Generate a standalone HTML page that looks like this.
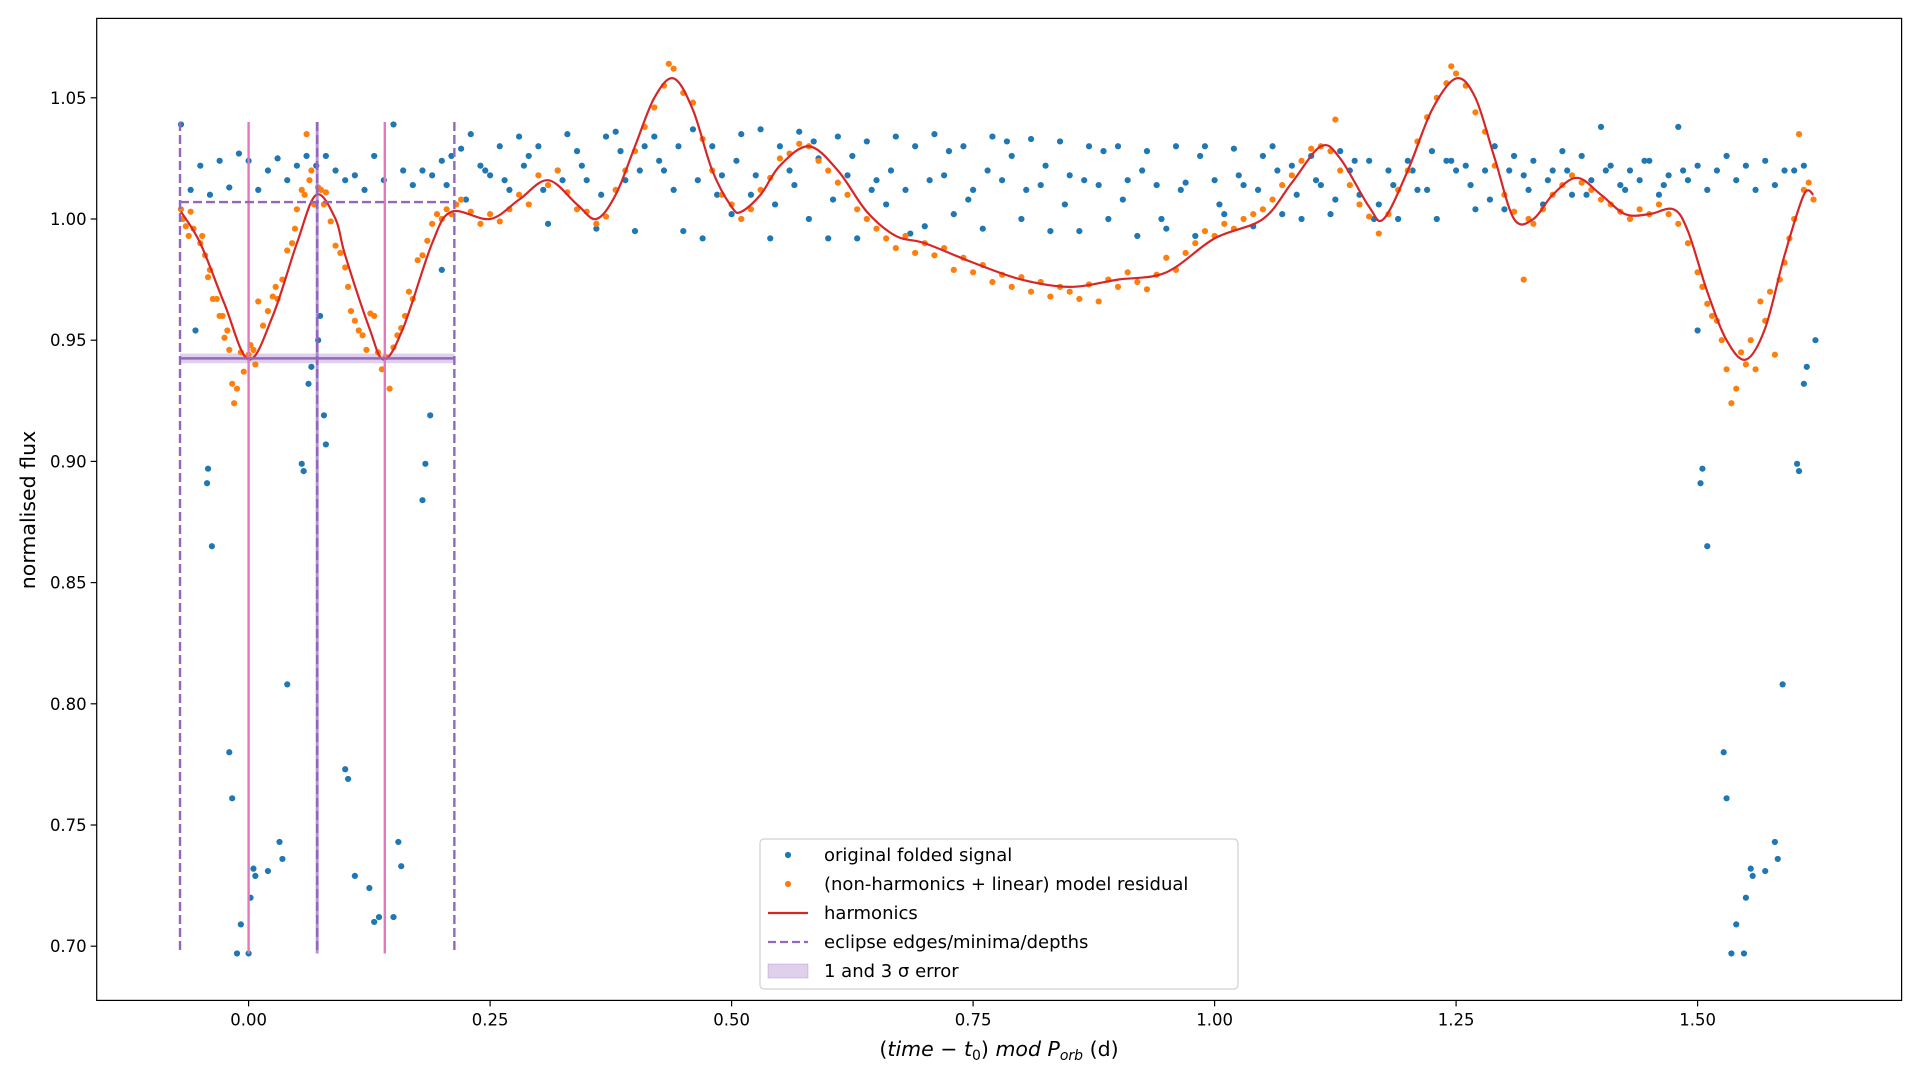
<!DOCTYPE html>
<html><head><meta charset="utf-8"><style>
html,body{margin:0;padding:0;background:#fff}
svg{display:block;font-family:"DejaVu Sans","Liberation Sans",sans-serif}
</style></head><body>
<svg id="chart" width="1920" height="1080" viewBox="0 0 1920 1080">
<rect x="0" y="0" width="1920" height="1080" fill="#fff"/>
<g id="plot"></g>
</svg>
<script>
// ---- data ----
const xTicks = [0, 0.25, 0.5, 0.75, 1.0, 1.25, 1.5];
const xTickLabels = ["0.00","0.25","0.50","0.75","1.00","1.25","1.50"];
const yTicks = [0.70,0.75,0.80,0.85,0.90,0.95,1.00,1.05];
const yTickLabels = ["0.70","0.75","0.80","0.85","0.90","0.95","1.00","1.05"];

const harmX = [-0.07,-0.05,-0.025,0,0.025,0.05,0.07,0.09,0.1,0.125,0.14,0.16,0.19,0.21,0.25,0.28,0.31,0.34,0.36,0.38,0.4,0.42,0.44,0.46,0.48,0.5,0.51,0.53,0.55,0.58,0.61,0.64,0.67,0.7,0.75,0.8,0.85,0.9,0.95,1.0,1.05,1.08,1.11,1.13,1.16,1.175,1.2,1.225,1.25,1.27,1.29,1.31,1.33,1.35,1.375,1.4,1.425,1.45,1.475,1.49,1.51,1.53,1.55,1.57,1.59,1.61,1.62];
const harmY = [1.003,0.99,0.965,0.942,0.96,0.99,1.01,1.0,0.985,0.955,0.942,0.955,0.99,1.003,1.0,1.008,1.016,1.006,1.0,1.01,1.03,1.05,1.058,1.045,1.02,1.005,1.003,1.01,1.022,1.03,1.02,1.003,0.993,0.99,0.982,0.975,0.972,0.975,0.978,0.992,1.0,1.015,1.03,1.025,1.005,1.0,1.02,1.045,1.058,1.05,1.025,1.0,1.0,1.01,1.017,1.01,1.002,1.002,1.004,0.995,0.97,0.95,0.942,0.955,0.985,1.01,1.01];

const resX = [-0.07,-0.068,-0.065,-0.062,-0.06,-0.057,-0.05,-0.048,-0.045,-0.042,-0.04,-0.037,-0.033,-0.03,-0.027,-0.025,-0.022,-0.02,-0.017,-0.015,-0.012,-0.008,-0.005,0,0.002,0.005,0.007,0.01,0.015,0.02,0.025,0.028,0.03,0.035,0.04,0.045,0.048,0.05,0.055,0.058,0.06,0.063,0.065,0.068,0.072,0.075,0.078,0.08,0.085,0.09,0.095,0.1,0.103,0.106,0.11,0.114,0.118,0.122,0.126,0.13,0.134,0.138,0.142,0.146,0.15,0.154,0.158,0.162,0.166,0.17,0.175,0.18,0.185,0.19,0.195,0.2,0.205,0.21,0.215,0.22,0.23,0.24,0.25,0.26,0.27,0.28,0.29,0.3,0.31,0.32,0.33,0.34,0.35,0.36,0.37,0.38,0.39,0.4,0.41,0.42,0.43,0.435,0.44,0.45,0.46,0.47,0.48,0.49,0.5,0.51,0.52,0.53,0.54,0.55,0.56,0.57,0.58,0.59,0.6,0.61,0.62,0.63,0.64,0.65,0.66,0.67,0.68,0.69,0.7,0.71,0.72,0.73,0.74,0.75,0.76,0.77,0.78,0.79,0.8,0.81,0.82,0.83,0.84,0.85,0.86,0.87,0.88,0.89,0.9,0.91,0.92,0.93,0.94,0.95,0.96,0.97,0.98,0.99,1.0,1.01,1.02,1.03,1.04,1.05,1.06,1.07,1.08,1.09,1.1,1.11,1.12,1.125,1.13,1.14,1.15,1.16,1.17,1.18,1.19,1.2,1.21,1.22,1.23,1.24,1.245,1.25,1.26,1.27,1.28,1.29,1.3,1.31,1.32,1.325,1.33,1.34,1.35,1.36,1.37,1.38,1.39,1.4,1.41,1.42,1.43,1.44,1.45,1.46,1.47,1.48,1.49,1.5,1.505,1.51,1.515,1.52,1.525,1.53,1.535,1.54,1.545,1.55,1.555,1.56,1.565,1.57,1.575,1.58,1.585,1.59,1.595,1.6,1.605,1.61,1.615,1.62];
const resY = [1.004,1.0,0.997,0.993,1.003,0.996,0.99,0.993,0.985,0.976,0.979,0.967,0.967,0.96,0.96,0.951,0.954,0.946,0.932,0.924,0.93,0.945,0.937,0.944,0.948,0.946,0.94,0.966,0.956,0.962,0.968,0.972,0.967,0.975,0.987,0.99,0.996,1.004,1.012,1.01,1.035,1.016,1.02,1.006,1.013,1.012,1.006,1.011,0.999,0.989,0.986,0.98,0.972,0.962,0.958,0.954,0.952,0.946,0.961,0.96,0.945,0.938,0.943,0.93,0.947,0.952,0.955,0.96,0.97,0.967,0.983,0.985,0.991,0.998,1.002,1.0,1.004,1.002,1.006,1.008,1.003,0.998,1.002,0.999,1.004,1.01,1.006,1.018,1.014,1.02,1.011,1.004,1.003,0.998,1.001,1.012,1.02,1.028,1.038,1.046,1.055,1.064,1.062,1.052,1.048,1.033,1.02,1.01,1.006,1.0,1.004,1.012,1.017,1.025,1.027,1.031,1.03,1.024,1.02,1.015,1.01,1.004,1.0,0.996,0.992,0.988,0.993,0.986,0.99,0.985,0.988,0.979,0.984,0.978,0.981,0.974,0.977,0.972,0.976,0.97,0.974,0.968,0.972,0.97,0.967,0.973,0.966,0.975,0.972,0.978,0.974,0.971,0.977,0.984,0.979,0.986,0.99,0.995,0.993,0.998,0.996,1.0,1.002,1.004,1.008,1.014,1.018,1.024,1.029,1.03,1.028,1.041,1.02,1.014,1.006,1.001,0.994,1.002,1.012,1.02,1.032,1.042,1.05,1.056,1.063,1.06,1.055,1.044,1.036,1.022,1.01,1.003,0.975,1.0,0.998,1.004,1.01,1.014,1.018,1.015,1.012,1.008,1.006,1.003,1.0,1.004,1.002,1.006,1.002,0.998,0.99,0.978,0.972,0.965,0.96,0.958,0.95,0.938,0.924,0.93,0.945,0.94,0.95,0.938,0.966,0.958,0.97,0.944,0.975,0.982,0.992,1.0,1.035,1.012,1.015,1.008];

const sigX = [-0.07,-0.06,-0.05,-0.04,-0.03,-0.02,-0.01,0.0,0.01,0.02,0.03,0.04,0.05,0.06,0.07,0.08,0.09,0.1,0.11,0.12,0.13,0.14,0.15,0.16,0.17,0.18,0.19,0.2,0.205,0.21,0.22,0.225,0.23,0.24,0.245,0.25,0.26,0.265,0.27,0.28,0.285,0.29,0.3,0.305,0.31,0.32,0.325,0.33,0.34,0.345,0.35,0.36,0.365,0.37,0.38,0.385,0.39,0.4,0.405,0.41,0.42,0.425,0.43,0.44,0.445,0.45,0.46,0.465,0.47,0.48,0.485,0.49,0.5,0.505,0.51,0.52,0.525,0.53,0.54,0.545,0.55,0.56,0.565,0.57,0.58,0.585,0.59,0.6,0.605,0.61,0.62,0.625,0.63,0.64,0.645,0.65,0.66,0.665,0.67,0.68,0.685,0.69,0.7,0.705,0.71,0.72,0.725,0.73,0.74,0.745,0.75,0.76,0.765,0.77,0.78,0.785,0.79,0.8,0.805,0.81,0.82,0.825,0.83,0.84,0.845,0.85,0.86,0.865,0.87,0.88,0.885,0.89,0.9,0.905,0.91,0.92,0.925,0.93,0.94,0.945,0.95,0.96,0.965,0.97,0.98,0.985,0.99,1.0,1.005,1.01,1.02,1.025,1.03,1.04,1.045,1.05,1.06,1.065,1.07,1.08,1.085,1.09,1.1,1.105,1.11,1.12,1.125,1.13,1.14,1.145,1.15,1.16,1.165,1.17,1.18,1.185,1.19,1.2,1.205,1.21,1.22,1.225,1.23,1.24,1.245,1.25,1.26,1.265,1.27,1.28,1.285,1.29,1.3,1.305,1.31,1.32,1.325,1.33,1.34,1.345,1.35,1.36,1.365,1.37,1.38,1.385,1.39,1.4,1.405,1.41,1.42,1.425,1.43,1.44,1.445,1.45,1.46,1.465,1.47,1.48,1.485,1.49,1.5,1.51,1.52,1.53,1.54,1.55,1.56,1.57,1.58,1.59,1.6,1.61,1.622];
const sigY = [1.039,1.012,1.022,1.01,1.024,1.013,1.027,1.024,1.012,1.02,1.025,1.016,1.022,1.026,1.022,1.026,1.02,1.016,1.018,1.012,1.026,1.016,1.039,1.02,1.014,1.02,1.018,1.024,1.014,1.026,1.029,1.008,1.035,1.022,1.02,1.018,1.03,1.016,1.012,1.034,1.022,1.026,1.03,1.012,0.998,1.02,1.016,1.035,1.028,1.022,1.016,0.996,1.01,1.034,1.036,1.028,1.016,0.995,1.02,1.03,1.034,1.024,1.02,1.012,1.03,0.995,1.037,1.016,0.992,1.03,1.01,1.018,1.002,1.024,1.035,1.01,1.018,1.037,0.992,1.006,1.03,1.02,1.014,1.036,1.0,1.032,1.025,0.992,1.008,1.034,1.018,1.026,0.992,1.032,1.012,1.016,1.006,1.02,1.034,1.012,0.994,1.03,0.997,1.016,1.035,1.018,1.028,1.002,1.03,1.008,1.012,0.996,1.02,1.034,1.016,1.032,1.026,1.0,1.012,1.033,1.014,1.022,0.995,1.032,1.006,1.018,0.995,1.016,1.03,1.014,1.028,1.0,1.03,1.008,1.016,0.993,1.02,1.028,1.014,1.0,0.996,1.03,1.012,1.015,0.993,1.026,1.03,1.016,1.006,1.002,1.029,1.018,1.014,0.997,1.012,1.026,1.03,1.02,1.002,1.022,1.01,1.0,1.026,1.016,1.014,1.002,1.008,1.028,1.02,1.024,1.01,1.024,1.0,1.006,1.02,1.014,1.0,1.024,1.02,1.012,1.012,1.028,1.0,1.024,1.024,1.02,1.022,1.014,1.004,1.02,1.008,1.03,1.004,1.02,1.026,1.018,1.012,1.024,1.006,1.016,1.02,1.028,1.02,1.01,1.026,1.01,1.016,1.038,1.02,1.022,1.014,1.012,1.02,1.016,1.024,1.024,1.01,1.014,1.018,1.038,1.02,1.016,1.022,1.012,1.02,1.026,1.016,1.022,1.012,1.024,1.014,1.02,1.02,1.022,0.95];

const dipX = [-0.055,-0.043,-0.042,-0.038,-0.02,-0.017,-0.012,-0.008,0.0,0.002,0.005,0.007,0.02,0.032,0.035,0.04,0.055,0.057,0.062,0.065,0.072,0.074,0.078,0.08,0.1,0.103,0.11,0.125,0.13,0.135,0.15,0.155,0.158,0.18,0.183,0.188,0.2,1.5,1.503,1.505,1.51,1.527,1.53,1.535,1.54,1.548,1.55,1.555,1.557,1.57,1.58,1.583,1.588,1.603,1.605,1.61,1.613];
const dipY = [0.954,0.891,0.897,0.865,0.78,0.761,0.697,0.709,0.697,0.72,0.732,0.729,0.731,0.743,0.736,0.808,0.899,0.896,0.932,0.939,0.95,0.96,0.919,0.907,0.773,0.769,0.729,0.724,0.71,0.712,0.712,0.743,0.733,0.884,0.899,0.919,0.979,0.954,0.891,0.897,0.865,0.78,0.761,0.697,0.709,0.697,0.72,0.732,0.729,0.731,0.743,0.736,0.808,0.899,0.896,0.932,0.939];

const edgeX = [-0.071, 0.071, 0.213];
const minimaX = [0.0, 0.141];
const edgeTop = 1.04, edgeBottom = 0.697;
const depthTop = 1.007, depthMin = 0.9425;
const depthErrLo = 0.9405, depthErrHi = 0.9445;

// ---- axes ----
const X0 = 96.7, X1 = 1901.6, Y0 = 18.4, Y1 = 1000.4;
function xs(v){ return 248.6 + v*966; }
function ys(v){ return 219 + (1-v)*2424; }

const NS = "http://www.w3.org/2000/svg";
const plotG = document.getElementById('plot');
function mk(tag, attrs, parent){
  const e = document.createElementNS(NS, tag);
  for (const k in attrs) e.setAttribute(k, attrs[k]);
  (parent||plotG).appendChild(e);
  return e;
}

const defsEl = mk('defs', {});
const clipEl = mk('clipPath', {id:'clip'}, defsEl);
mk('rect', {x:X0, y:Y0, width:X1-X0, height:Y1-Y0}, clipEl);

const dataLayer = mk('g', {'clip-path':'url(#clip)'});



const errBand = mk('rect', {x:xs(edgeX[0]), y:ys(depthErrHi), width:xs(edgeX[2])-xs(edgeX[0]), height:ys(depthErrLo)-ys(depthErrHi), fill:'#9467bd', 'fill-opacity':0.3}, dataLayer);



const gB = mk('g', {fill:'#1f77b4'}, dataLayer);


for (let i=0;i<sigX.length;i++){
  const c = mk('circle', {cx:xs(sigX[i]), cy:ys(sigY[i]), r:3.1}, gB);
  
  
}
for (let i=0;i<dipX.length;i++){
  const c = mk('circle', {cx:xs(dipX[i]), cy:ys(dipY[i]), r:3.1}, gB);
  
  
}
const gO = mk('g', {fill:'#ff7f0e'}, dataLayer);


for (let i=0;i<resX.length;i++){
  const c = mk('circle', {cx:xs(resX[i]), cy:ys(resY[i]), r:3.1}, gO);
  
  
}
const Pts = harmX.map((x,i)=>[xs(x), ys(harmY[i])]);
let pathD = 'M'+Pts[0][0]+','+Pts[0][1];
for (let i=0;i<Pts.length-1;i++){
  const p0=Pts[Math.max(0,i-1)], p1=Pts[i], p2=Pts[i+1], p3=Pts[Math.min(Pts.length-1,i+2)];
  const a=[p1[0]+(p2[0]-p0[0])/6, p1[1]+(p2[1]-p0[1])/6];
  const b=[p2[0]-(p3[0]-p1[0])/6, p2[1]-(p3[1]-p1[1])/6];
  pathD += ' C'+a[0]+','+a[1]+' '+b[0]+','+b[1]+' '+p2[0]+','+p2[1];
}
const harmLine = mk('path', {d:pathD, fill:'none', stroke:'#d62728', 'stroke-width':2.2}, dataLayer);



for (let i=0;i<minimaX.length;i++){
  const l = mk('line', {x1:xs(minimaX[i]), x2:xs(minimaX[i]), y1:ys(edgeTop), y2:ys(edgeBottom), stroke:'#e377c2', 'stroke-width':2.4}, dataLayer);
  
  
}
for (let i=0;i<edgeX.length;i++){
  const l = mk('line', {x1:xs(edgeX[i]), x2:xs(edgeX[i]), y1:ys(edgeTop), y2:ys(edgeBottom), stroke:'#9467bd', 'stroke-width':2.4, 'stroke-dasharray':'9,4'}, dataLayer);
  
  
}
const midLine = mk('line', {x1:xs(edgeX[1]), x2:xs(edgeX[1]), y1:ys(edgeTop), y2:ys(edgeBottom), stroke:'#9467bd', 'stroke-width':3, 'stroke-opacity':0.7}, dataLayer);


const topLevelLine = mk('line', {x1:xs(edgeX[0]), x2:xs(edgeX[2]), y1:ys(depthTop), y2:ys(depthTop), stroke:'#9467bd', 'stroke-width':2.4, 'stroke-dasharray':'9,4'}, dataLayer);


const depthLine = mk('line', {x1:xs(edgeX[0]), x2:xs(edgeX[2]), y1:ys(depthMin), y2:ys(depthMin), stroke:'#9467bd', 'stroke-width':2.4}, dataLayer);



const frameRect = mk('rect', {x:X0, y:Y0, width:X1-X0, height:Y1-Y0, fill:'none', stroke:'#000', 'stroke-width':1.2});



for (let i=0;i<xTicks.length;i++){
  const x = xs(xTicks[i]);
  const t = mk('line', {x1:x, x2:x, y1:Y1, y2:Y1+6, stroke:'#000', 'stroke-width':1.2});
  
  
  const tx = mk('text', {x:x, y:Y1+25, 'text-anchor':'middle', 'font-size':16.5, fill:'#000'});
  tx.textContent = xTickLabels[i];
  
  
}
for (let i=0;i<yTicks.length;i++){
  const y = ys(yTicks[i]);
  const t = mk('line', {x1:X0-6, x2:X0, y1:y, y2:y, stroke:'#000', 'stroke-width':1.2});
  
  
  const tx = mk('text', {x:X0-10, y:y+6, 'text-anchor':'end', 'font-size':16.5, fill:'#000'});
  tx.textContent = yTickLabels[i];
  
  
}
const yTitle = mk('text', {x:0, y:0, transform:'translate(35,510) rotate(-90)', 'text-anchor':'middle', 'font-size':20.5, fill:'#000'});
yTitle.textContent = 'normalised flux';


const xTitle = mk('text', {x:999, y:1056, 'text-anchor':'middle', 'font-size':20.5, fill:'#000'});
xTitle.innerHTML = '(<tspan font-style="italic">time</tspan> − <tspan font-style="italic">t</tspan><tspan font-size="14" dy="4">0</tspan><tspan dy="-4">) </tspan><tspan font-style="italic">mod P</tspan><tspan font-style="italic" font-size="14" dy="4">orb</tspan><tspan dy="-4"> (d)</tspan>';



const legendG = mk('g', {});


mk('rect', {x:760, y:839, width:478, height:150, rx:4, fill:'#fff', 'fill-opacity':0.85, stroke:'#d0d0d0', 'stroke-width':1.2}, legendG);
const legendRows = [855, 884, 913, 942, 971];
const legendLabels = ['original folded signal','(non-harmonics + linear) model residual','harmonics','eclipse edges/minima/depths','1 and 3 σ error'];
const lm1 = mk('circle', {cx:788, cy:legendRows[0], r:3.1, fill:'#1f77b4'}, legendG);


const lm2 = mk('circle', {cx:788, cy:legendRows[1], r:3.1, fill:'#ff7f0e'}, legendG);


const lm3 = mk('line', {x1:768, x2:808, y1:legendRows[2], y2:legendRows[2], stroke:'#d62728', 'stroke-width':2.2}, legendG);


const lm4 = mk('line', {x1:768, x2:808, y1:legendRows[3], y2:legendRows[3], stroke:'#9467bd', 'stroke-width':2.2, 'stroke-dasharray':'8,4'}, legendG);


const lm5 = mk('rect', {x:768, y:legendRows[4]-7, width:40, height:14, fill:'#9467bd', 'fill-opacity':0.3, stroke:'#9467bd', 'stroke-opacity':0.3}, legendG);


for (let i=0;i<legendLabels.length;i++){
  const t = mk('text', {x:824, y:legendRows[i]+6, 'font-size':18, fill:'#000'}, legendG);
  t.textContent = legendLabels[i];
  
  
}
</script>
</body></html>
